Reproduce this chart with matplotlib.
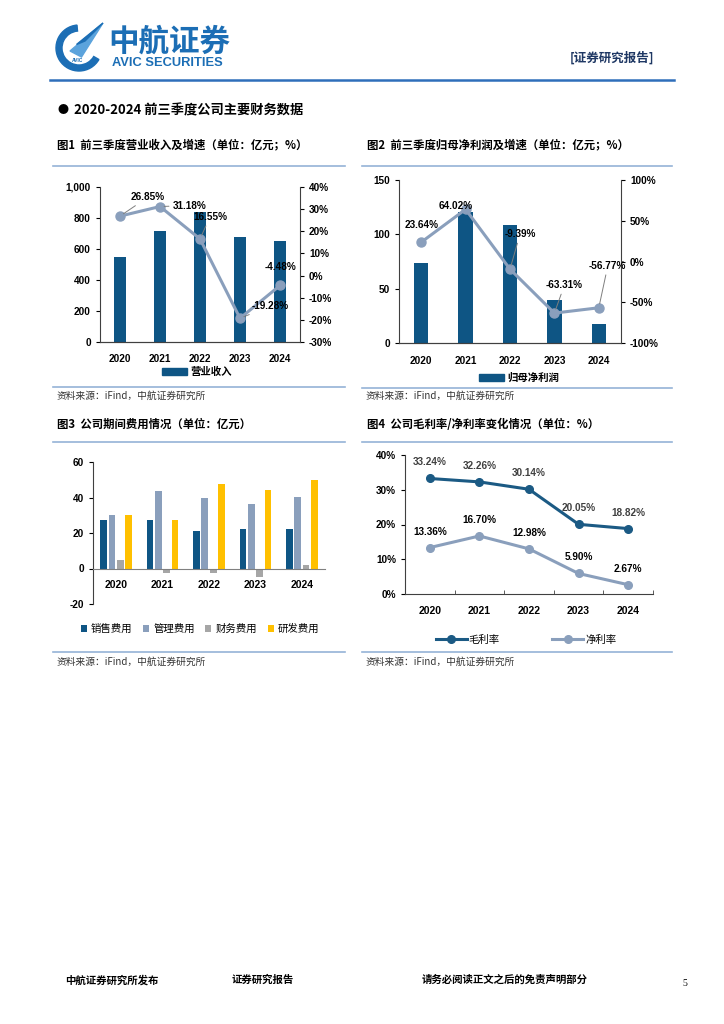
import matplotlib

matplotlib.use("Agg")

import matplotlib.pyplot as plt
from matplotlib.lines import Line2D
from matplotlib.patches import Patch, Wedge, Polygon
from matplotlib.ticker import FuncFormatter, FixedLocator


# ==================================================
# DATA
# ==================================================

years = ["2020", "2021", "2022", "2023", "2024"]

revenue = [548, 719, 839, 677, 649]
revenue_growth = [26.85, 31.18, 16.55, -19.28, -4.48]

net_profit = [73.2, 120.9, 108.4, 39.8, 17.4]
net_profit_growth = [23.64, 64.02, -9.39, -63.31, -56.77]

expense_names = ["销售费用", "管理费用", "财务费用", "研发费用"]
selling_exp = [27.2, 27.2, 21.0, 22.3, 22.3]
admin_exp = [30.0, 43.7, 39.9, 36.4, 40.1]
finance_exp = [4.9, -2.4, -2.4, -4.7, 2.1]
rd_exp = [30.0, 27.2, 47.6, 44.3, 49.9]

gross_margin = [33.24, 32.26, 30.14, 20.05, 18.82]
net_margin = [13.36, 16.70, 12.98, 5.90, 2.67]


# ==================================================
# STYLE
# ==================================================

plt.rcParams["font.family"] = ["Liberation Sans", "Noto Sans CJK SC", "DejaVu Sans"]
plt.rcParams["axes.unicode_minus"] = False

CJK = ["Noto Sans CJK SC", "DejaVu Sans"]
DARK_BLUE = "#0E5584"
GREY_BLUE = "#8A9FBC"
GREY = "#A6A6A6"
YELLOW = "#FFC000"
FRAME = "#95B3D7"
SPINE = "#404040"

W, H = 724, 1024

fig = plt.figure(figsize=(W / 100, H / 100), dpi=100)


def px_axes(x0, y0, x1, y1):
    return fig.add_axes([x0 / W, 1 - y1 / H, (x1 - x0) / W, (y1 - y0) / H])


def px_text(x, y, s, **kw):
    kw.setdefault("va", "center")
    return fig.text(x / W, 1 - y / H, s, **kw)


def px_hline(x0, x1, y, color=FRAME, lw=1.2):
    fig.add_artist(Line2D([x0 / W, x1 / W], [1 - y / H, 1 - y / H],
                          transform=fig.transFigure, color=color, lw=lw))


def pct(v, pos):
    return f"{v:.0f}%"


def style_spines(ax, left=True, right=False, bottom=True):
    ax.spines["top"].set_visible(False)
    ax.spines["left"].set_visible(left)
    ax.spines["right"].set_visible(right)
    ax.spines["bottom"].set_visible(bottom)
    for s in ("left", "right", "bottom"):
        ax.spines[s].set_color(SPINE)
        ax.spines[s].set_linewidth(0.8)
    ax.set_facecolor("none")


def label_point(ax, x, y, text, dx, dy, leader, color="black", ha="center"):
    arrow = None
    if leader:
        arrow = dict(arrowstyle="-", color="#7F7F7F", lw=0.7,
                     shrinkA=1, shrinkB=3)
    ax.annotate(text, xy=(x, y), xytext=(dx, dy), textcoords="offset pixels",
                ha=ha, va="center", fontsize=7.2, fontweight="bold",
                color=color, arrowprops=arrow, zorder=5)


# ==================================================
# PAGE HEADER
# ==================================================

logo = px_axes(54, 22, 104, 72)
logo.set_xlim(0, 1)
logo.set_ylim(0, 1)
logo.axis("off")
logo.add_patch(Wedge((0.5, 0.48), 0.46, 95, 330, width=0.12, color="#1C6EB5"))
logo.add_patch(Polygon([(0.32, 0.42), (0.98, 0.98), (0.55, 0.30)],
                       color="#5BA3DC"))
logo.add_patch(Polygon([(0.45, 0.55), (0.98, 0.98), (0.62, 0.62)],
                       color="#1C6EB5"))
logo.text(0.48, 0.22, "AVIC", fontsize=3.5, color="#1C6EB5",
          ha="center", va="center", fontweight="bold")

px_text(108, 42, "中航证券", fontsize=22, fontweight="bold",
        color="#1C6EB5", family=CJK)
px_text(112, 63, "AVIC SECURITIES", fontsize=9.3, fontweight="bold",
        color="#1C6EB5")
px_text(570, 58, "[证券研究报告]", fontsize=9, fontweight="bold",
        color="#1F3864", family=CJK)
px_hline(50, 674, 80, color="#2F6EBA", lw=1.8)

px_text(58, 110, "●", fontsize=8, color="black", family=CJK)
px_text(74, 110, "2020-2024 前三季度公司主要财务数据", fontsize=9.5,
        fontweight="bold", color="black", family=CJK)


# ==================================================
# CHART 1: REVENUE AND GROWTH
# ==================================================

px_text(57, 145, "图1  前三季度营业收入及增速（单位：亿元；%）", fontsize=8.2,
        fontweight="bold", family=CJK)
px_hline(53, 345, 166)

x = range(len(years))

ax1 = px_axes(100, 187, 300, 342)
ax1.bar(x, revenue, width=0.32, color=DARK_BLUE, label="营业收入", zorder=2)
ax1.set_xlim(-0.5, 4.5)
ax1.set_ylim(0, 1000)
ax1.set_yticks(range(0, 1001, 200))
ax1.yaxis.set_major_formatter(FuncFormatter(lambda v, p: f"{v:,.0f}"))
ax1.set_xticks(list(x))
ax1.set_xticklabels(years)
ax1.tick_params(axis="x", length=0, pad=9, labelsize=7.2)
ax1.tick_params(axis="y", length=3, labelsize=7.2)
for t in ax1.get_xticklabels() + ax1.get_yticklabels():
    t.set_fontweight("bold")
style_spines(ax1, left=True, right=False)

ax1b = ax1.twinx()
ax1b.plot(x, revenue_growth, color=GREY_BLUE, lw=2.2, marker="o",
          markersize=6.5, zorder=3)
ax1b.set_ylim(-30, 40)
ax1b.set_yticks(range(-30, 41, 10))
ax1b.yaxis.set_major_formatter(FuncFormatter(pct))
ax1b.tick_params(axis="y", length=3, labelsize=7.2)
for t in ax1b.get_yticklabels():
    t.set_fontweight("bold")
style_spines(ax1b, left=False, right=True)

rev_offsets = [(28, 19, True), (30, 1, True), (10, 22, True),
               (30, 12, True), (0, 18, False)]
for i, v in enumerate(revenue_growth):
    dx, dy, lead = rev_offsets[i]
    label_point(ax1b, i, v, f"{v:.2f}%", dx, dy, lead)

ax1.legend(handles=[Patch(color=DARK_BLUE, label="营业收入")],
           loc="center", bbox_to_anchor=(197 / W, 1 - 372 / H),
           bbox_transform=fig.transFigure, frameon=False,
           prop={"family": CJK, "size": 7.5, "weight": "bold"},
           handlelength=2.4, handleheight=0.6, handletextpad=0.3)

px_hline(53, 345, 387)
px_text(57, 396, "资料来源：iFind，中航证券研究所", fontsize=7,
        color="#333333", family=CJK)


# ==================================================
# CHART 2: NET PROFIT AND GROWTH
# ==================================================

px_text(367, 145, "图2  前三季度归母净利润及增速（单位：亿元；%）", fontsize=8.2,
        fontweight="bold", family=CJK)
px_hline(362, 672, 166)

ax2 = px_axes(399, 180, 621, 343)
ax2.bar(x, net_profit, width=0.32, color=DARK_BLUE, zorder=2)
ax2.set_xlim(-0.5, 4.5)
ax2.set_ylim(0, 150)
ax2.set_yticks([0, 50, 100, 150])
ax2.set_xticks(list(x))
ax2.set_xticklabels(years)
ax2.tick_params(axis="x", length=0, pad=9, labelsize=7.2)
ax2.tick_params(axis="y", length=3, labelsize=7.2)
for t in ax2.get_xticklabels() + ax2.get_yticklabels():
    t.set_fontweight("bold")
style_spines(ax2, left=True, right=False)

ax2b = ax2.twinx()
ax2b.plot(x, net_profit_growth, color=GREY_BLUE, lw=2.2, marker="o",
          markersize=6.5, zorder=3)
ax2b.set_ylim(-100, 100)
ax2b.set_yticks(range(-100, 101, 50))
ax2b.yaxis.set_major_formatter(FuncFormatter(pct))
ax2b.tick_params(axis="y", length=3, labelsize=7.2)
for t in ax2b.get_yticklabels():
    t.set_fontweight("bold")
style_spines(ax2b, left=False, right=True)

np_offsets = [(0, 17, False), (-10, 3, False), (10, 35, True),
              (10, 28, True), (9, 42, True)]
for i, v in enumerate(net_profit_growth):
    dx, dy, lead = np_offsets[i]
    label_point(ax2b, i, v, f"{v:.2f}%", dx, dy, lead)

ax2.legend(handles=[Patch(color=DARK_BLUE, label="归母净利润")],
           loc="center", bbox_to_anchor=(519 / W, 1 - 378 / H),
           bbox_transform=fig.transFigure, frameon=False,
           prop={"family": CJK, "size": 7.5, "weight": "bold"},
           handlelength=2.4, handleheight=0.6, handletextpad=0.3)

px_hline(362, 672, 388)
px_text(366, 396, "资料来源：iFind，中航证券研究所", fontsize=7,
        color="#333333", family=CJK)


# ==================================================
# CHART 3: PERIOD EXPENSES
# ==================================================

px_text(57, 424, "图3  公司期间费用情况（单位：亿元）", fontsize=8.2,
        fontweight="bold", family=CJK)
px_hline(53, 345, 442)

ax3 = px_axes(93, 462, 325, 604)
series = [selling_exp, admin_exp, finance_exp, rd_exp]
colors = [DARK_BLUE, GREY_BLUE, GREY, YELLOW]
step = 0.18
for k, (vals, col, name) in enumerate(zip(series, colors, expense_names)):
    pos = [i + (k - 1.5) * step for i in x]
    ax3.bar(pos, vals, width=0.145, color=col, label=name, zorder=2)
ax3.set_xlim(-0.5, 4.5)
ax3.set_ylim(-20, 60)
ax3.set_yticks(range(-20, 61, 20))
ax3.set_xticks(list(x))
ax3.set_xticklabels(years)
ax3.spines["bottom"].set_position(("data", 0))
ax3.tick_params(axis="x", length=0, pad=8, labelsize=7.5)
ax3.tick_params(axis="y", length=3, labelsize=7.2)
for t in ax3.get_xticklabels() + ax3.get_yticklabels():
    t.set_fontweight("bold")
style_spines(ax3, left=True, right=False)
ax3.spines["bottom"].set_color("#808080")

ax3.legend(loc="center", bbox_to_anchor=(200 / W, 1 - 629 / H),
           bbox_transform=fig.transFigure, frameon=False, ncol=4,
           prop={"family": CJK, "size": 7.5}, handlelength=0.6,
           handleheight=0.7, handletextpad=0.4, columnspacing=1.0)

px_hline(53, 345, 652)
px_text(57, 662, "资料来源：iFind，中航证券研究所", fontsize=7,
        color="#333333", family=CJK)


# ==================================================
# CHART 4: MARGINS
# ==================================================

px_text(367, 424, "图4  公司毛利率/净利率变化情况（单位：%）", fontsize=8.2,
        fontweight="bold", family=CJK)
px_hline(362, 672, 442)

ax4 = px_axes(405, 455, 653, 594)
ax4.plot(x, gross_margin, color="#1B5A84", lw=2.2, marker="o",
         markersize=5.5, label="毛利率", zorder=3)
ax4.plot(x, net_margin, color=GREY_BLUE, lw=2.2, marker="o",
         markersize=5.5, label="净利率", zorder=3)
ax4.set_xlim(-0.5, 4.5)
ax4.set_ylim(0, 40)
ax4.set_yticks(range(0, 41, 10))
ax4.yaxis.set_major_formatter(FuncFormatter(pct))
ax4.set_xticks(list(x))
ax4.set_xticklabels(years)
ax4.xaxis.set_minor_locator(FixedLocator([0.5, 1.5, 2.5, 3.5, 4.5]))
ax4.tick_params(axis="x", which="major", length=0, pad=9, labelsize=7.5)
ax4.tick_params(axis="x", which="minor", length=3, direction="in",
                color=SPINE)
ax4.tick_params(axis="y", length=3, labelsize=7.2)
for t in ax4.get_xticklabels() + ax4.get_yticklabels():
    t.set_fontweight("bold")
style_spines(ax4, left=True, right=False)

for i, v in enumerate(gross_margin):
    label_point(ax4, i, v, f"{v:.2f}%", 0, 16, False, color="#404040")
for i, v in enumerate(net_margin):
    label_point(ax4, i, v, f"{v:.2f}%", 0, 16, False, color="black")

ax4.legend(loc="center", bbox_to_anchor=(526 / W, 1 - 640 / H),
           bbox_transform=fig.transFigure, frameon=False, ncol=2,
           prop={"family": CJK, "size": 7.5}, handlelength=3.0,
           handletextpad=0.2, columnspacing=5.0)

px_hline(362, 672, 652)
px_text(366, 662, "资料来源：iFind，中航证券研究所", fontsize=7,
        color="#333333", family=CJK)


# ==================================================
# PAGE FOOTER
# ==================================================

px_text(65, 980, "中航证券研究所发布", fontsize=7.5, fontweight="bold",
        family=CJK)
px_text(232, 980, "证券研究报告", fontsize=7.5, fontweight="bold",
        family=CJK)
px_text(422, 980, "请务必阅读正文之后的免责声明部分", fontsize=7.5,
        fontweight="bold", family=CJK)
px_text(682, 984, "5", fontsize=7, family=["Liberation Serif"])

fig.savefig("out.png", dpi=100, facecolor="white")
plt.close(fig)
